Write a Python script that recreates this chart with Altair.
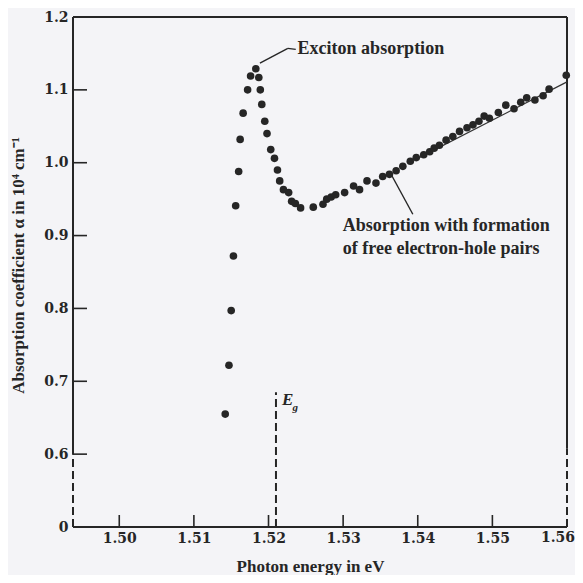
import altair as alt
import pandas as pd

# ---- data ----
energy = [
    1.5142, 1.5147, 1.5150, 1.5153, 1.5156, 1.5160, 1.5162, 1.5166, 1.5172, 1.5176,
    1.5183, 1.5187, 1.5189, 1.5191, 1.5195, 1.5198, 1.5203, 1.5208, 1.5212, 1.5215,
    1.5220, 1.5227, 1.5231, 1.5236, 1.5243, 1.5260, 1.5273, 1.5278, 1.5284, 1.5290,
    1.5302, 1.5314, 1.5322, 1.5332, 1.5344, 1.5353, 1.5362, 1.5371, 1.5380, 1.5390,
    1.5398, 1.5408, 1.5416, 1.5422, 1.5429, 1.5438, 1.5447, 1.5456, 1.5466, 1.5474,
    1.5482, 1.5489, 1.5496, 1.5508, 1.5518, 1.5529, 1.5538, 1.5546, 1.5557, 1.5568,
    1.5576, 1.5599,
]
alpha = [
    0.655, 0.722, 0.797, 0.872, 0.941, 0.988, 1.032, 1.068, 1.100, 1.119,
    1.129, 1.117, 1.100, 1.080, 1.057, 1.040, 1.018, 1.006, 0.990, 0.975,
    0.963, 0.959, 0.947, 0.944, 0.938, 0.939, 0.943, 0.950, 0.953, 0.956,
    0.959, 0.968, 0.963, 0.975, 0.972, 0.981, 0.984, 0.989, 0.995, 1.002,
    1.007, 1.011, 1.015, 1.020, 1.024, 1.031, 1.036, 1.043, 1.048, 1.052,
    1.057, 1.064, 1.061, 1.069, 1.079, 1.074, 1.083, 1.089, 1.086, 1.092,
    1.101, 1.120,
]

x_ticks = [1.50, 1.51, 1.52, 1.53, 1.54, 1.55]
x_last_tick = [1.56]
y_ticks = [0.5, 0.6, 0.7, 0.8, 0.9, 1.0, 1.1, 1.2]   # 0.5 stands for the broken "0"
x_inner_ticks = [1.50, 1.51, 1.52, 1.53, 1.54, 1.55]
y_inner_ticks = [0.6, 0.7, 0.8, 0.9, 1.0, 1.1]

XMIN, XMAX = 1.4938, 1.56
YMIN, YMAX = 0.5, 1.2
E_GAP = 1.5210

W, H = 494, 510
SERIF = "Liberation Serif"
TICKFONT = "DejaVu Serif"
INK = "#262626"

xs = alt.Scale(domain=[XMIN, XMAX], nice=False, zero=False)
ys = alt.Scale(domain=[YMIN, YMAX], nice=False, zero=False)

pts = pd.DataFrame({"e": energy, "a": alpha})

base = alt.Chart(pts)

points = base.mark_point(filled=True, size=58, opacity=1, color=INK).encode(
    x=alt.X("e:Q", scale=xs, axis=alt.Axis(
        values=x_ticks, format=".2f", title="Photon energy in eV",
        ticks=False, domain=False, grid=False, labelPadding=4,
        labelFont=TICKFONT, labelFontSize=14, labelFontWeight="bold", labelColor=INK,
        labelFlush=False, labelOverlap=False, labelBound=False,
        titleFont=SERIF, titleFontSize=17, titleFontWeight="bold", titleColor=INK,
        titleX=237, titleY=39, titleBaseline="middle", titleAlign="center")),
    y=alt.Y("a:Q", scale=ys, axis=alt.Axis(
        values=y_ticks, labelExpr="datum.value < 0.55 ? '0' : format(datum.value, '.1f')",
        title="Absorption coefficient α in 10⁴ cm⁻¹",
        ticks=False, domain=False, grid=False, labelPadding=5,
        labelFont=TICKFONT, labelFontSize=14, labelFontWeight="bold", labelColor=INK,
        labelFlush=False, labelOverlap=False, labelBound=False,
        titleFont=SERIF, titleFontSize=17, titleFontWeight="bold", titleColor=INK,
        titleX=-55, titleY=248, titleAngle=-90, titleAlign="center", titleBaseline="middle")),
)

# last x tick label, kept inside the page
last_lab = alt.Chart(pd.DataFrame({"v": x_last_tick})).mark_text(
    align="right", baseline="top", dx=8, font=TICKFONT, fontSize=14, fontWeight="bold", color=INK
).encode(x=alt.X("v:Q", scale=xs), y=alt.value(H + 4), text=alt.Text("v:Q", format=".2f"))

# fitted line through the right part of the data
fit = pd.DataFrame({"e": [1.540, 1.560], "a": [1.006, 1.111]})
fit_line = alt.Chart(fit).mark_line(color="#333", strokeWidth=1.2).encode(
    x=alt.X("e:Q", scale=xs), y=alt.Y("a:Q", scale=ys))

# frame (solid and dashed parts of the broken axes)
frame_solid = pd.DataFrame({
    "x": [XMIN, XMAX, XMIN, XMIN],
    "x2": [XMIN, XMAX, XMAX, XMAX],
    "y": [0.6, 0.608, YMAX, YMIN],
    "y2": [YMAX, YMAX, YMAX, YMIN],
})
frame_dash = pd.DataFrame({
    "x": [XMIN, XMAX, E_GAP],
    "x2": [XMIN, XMAX, E_GAP],
    "y": [YMIN, YMIN, YMIN],
    "y2": [0.6, 0.608, 0.685],
})
enc = dict(x=alt.X("x:Q", scale=xs), x2="x2:Q", y=alt.Y("y:Q", scale=ys), y2="y2:Q")
solid = alt.Chart(frame_solid).mark_rule(color=INK, strokeWidth=2).encode(**enc)
dashed = alt.Chart(frame_dash).mark_rule(color=INK, strokeWidth=2, strokeDash=[8, 4]).encode(**enc)

# inward ticks
yt = alt.Chart(pd.DataFrame({"v": y_inner_ticks})).mark_rule(color=INK, strokeWidth=1.6).encode(
    y=alt.Y("v:Q", scale=ys), x=alt.value(0), x2=alt.value(14))
xt = alt.Chart(pd.DataFrame({"v": x_inner_ticks})).mark_rule(color=INK, strokeWidth=1.6).encode(
    x=alt.X("v:Q", scale=xs), y=alt.value(H), y2=alt.value(H - 12))

# leader lines
leaders = pd.DataFrame({
    "x": [1.51885, 1.52259, 1.53646],
    "x2": [1.52259, 1.52365, 1.53934],
    "y": [1.1366, 1.1569, 0.9835],
    "y2": [1.1569, 1.1556, 0.9293],
})
lead = alt.Chart(leaders).mark_rule(color=INK, strokeWidth=1.4).encode(**enc)

# annotations
notes = pd.DataFrame({
    "x": [1.5239, 1.52995, 1.52995],
    "y": [1.156, 0.913, 0.882],
    "t": ["Exciton absorption", "Absorption with formation", "of free electron-hole pairs"],
})
note_text = alt.Chart(notes).mark_text(
    align="left", baseline="middle", font=SERIF, fontSize=18, fontWeight="bold", color=INK
).encode(x=alt.X("x:Q", scale=xs), y=alt.Y("y:Q", scale=ys), text="t:N")

eg_e = alt.Chart(pd.DataFrame({"x": [1.5218], "y": [0.6745], "t": ["E"]})).mark_text(
    align="left", baseline="middle", font=SERIF, fontSize=17, fontWeight="bold",
    fontStyle="italic", color=INK
).encode(x=alt.X("x:Q", scale=xs), y=alt.Y("y:Q", scale=ys), text="t:N")
eg_g = alt.Chart(pd.DataFrame({"x": [1.5232], "y": [0.664], "t": ["g"]})).mark_text(
    align="left", baseline="middle", font=SERIF, fontSize=11, fontWeight="bold",
    fontStyle="italic", color=INK
).encode(x=alt.X("x:Q", scale=xs), y=alt.Y("y:Q", scale=ys), text="t:N")

chart = alt.layer(
    solid, dashed, yt, xt, fit_line, lead, points, last_lab, note_text, eg_e, eg_g
).properties(
    width=W, height=H,
    padding={"left": 65, "top": 9, "right": 8, "bottom": 48},
    autosize="none",
    background="#f4f4f7",
).configure_view(stroke=None)

chart.save("out.html", embed_options={"renderer": "svg", "actions": False})
